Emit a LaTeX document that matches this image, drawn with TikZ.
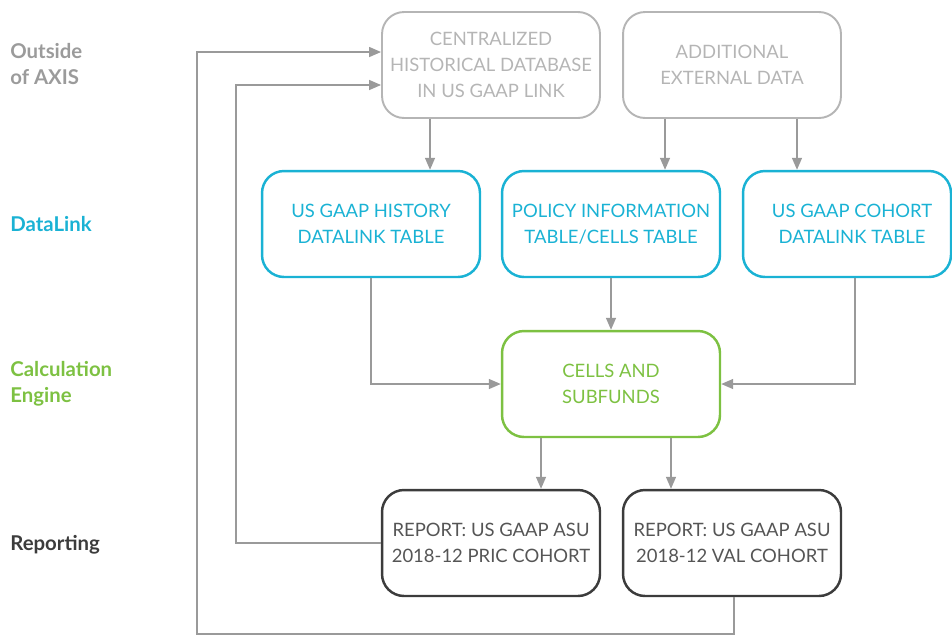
\documentclass[tikz,border=0pt]{standalone}
\usepackage{fontspec}
\setmainfont{Lato}
\usetikzlibrary{arrows, arrows.meta}
\usetikzlibrary{positioning}
\definecolor{boxgray}{HTML}{B5B5B5}
\definecolor{lblgray}{HTML}{9B9B9B}
\definecolor{dlcyan}{HTML}{1AB2D4}
\definecolor{cegreen}{HTML}{7DC142}
\definecolor{repdark}{HTML}{3C3C3C}
\definecolor{reptext}{HTML}{555555}
\definecolor{arrgray}{HTML}{9A9A9A}

\begin{document}
\begin{tikzpicture}[x=0.02cm, y=-0.02cm]
\tikzstyle{box}=[rounded corners=0.44cm, minimum width=4.36cm, minimum height=2.12cm, align=center, font=\fontsize{10.5}{14.8}\selectfont, line width=1.4pt, inner sep=0pt]
\tikzstyle{outbox}=[box, draw=boxgray, text=boxgray, line width=1.1pt]
\tikzstyle{dlbox}=[box, draw=dlcyan, text=dlcyan]
\tikzstyle{cebox}=[box, draw=cegreen, text=cegreen]
\tikzstyle{repbox}=[box, draw=repdark, text=reptext]
\tikzstyle{lane}=[anchor=west, align=left, inner sep=0pt, font=\fontsize{11.6}{14.8}\selectfont\bfseries]
\tikzstyle{arr}=[draw=arrgray, line width=0.8pt, -{Triangle[length=0.24cm, width=0.2cm]}]
\useasboundingbox (0,0) rectangle (952,637);
\node[outbox] (chd) at (491,65) {CENTRALIZED\\HISTORICAL DATABASE\\IN US GAAP LINK};
\node[outbox] (aed) at (732,65) {ADDITIONAL\\EXTERNAL DATA};
\node[dlbox] (hist) at (371,224) {US GAAP HISTORY\\DATALINK TABLE};
\node[dlbox] (pol) at (611,224) {POLICY INFORMATION\\TABLE/CELLS TABLE};
\node[dlbox, minimum width=4.16cm] (coh) at (847,224) {\hspace{0.2cm}US GAAP COHORT\\\hspace{0.2cm}DATALINK TABLE};
\node[cebox] (calc) at (611,384) {CELLS AND\\SUBFUNDS};
\node[repbox] (rep1) at (491,543) {REPORT: US GAAP ASU\\2018-12 PRIC COHORT};
\node[repbox] (rep2) at (732,543) {REPORT: US GAAP ASU\\2018-12 VAL COHORT};
\node[lane, text=lblgray] (lout) at (10,64) {Outside\\of AXIS};
\node[lane, text=dlcyan] (ldl) at (10,224) {DataLink};
\node[lane, text=cegreen] (lce) at (10,384) {Calculation\\Engine};
\node[lane, text=repdark] (lrep) at (10,545) {Reporting};
\coordinate (loop) at (197,634);
\draw[arr] ([xshift=-1.22cm]chd.south) -- ([xshift=-1.22cm]chd.south |- hist.north);
\draw[arr] ([xshift=-1.34cm]aed.south) -- ([xshift=-1.34cm]aed.south |- pol.north);
\draw[arr] ([xshift=1.30cm]aed.south) -- ([xshift=1.30cm]aed.south |- coh.north);
\draw[arr] (hist.south) |- (calc.west);
\draw[arr] (pol.south) -- (calc.north);
\draw[arr] ([xshift=0.16cm]coh.south) |- (calc.east);
\draw[arr] ([xshift=-1.4cm]calc.south) -- ([xshift=-1.4cm]calc.south |- rep1.north);
\draw[arr] ([xshift=1.2cm]calc.south) -- ([xshift=1.2cm]calc.south |- rep2.north);
\draw[arr] (rep1.west) -- ++(-2.9cm,0) |- ([yshift=-0.4cm]chd.west);
\draw[arr] ([xshift=0.04cm]rep2.south) |- (loop) |- ([yshift=0.26cm]chd.west);
\end{tikzpicture}
\end{document}
